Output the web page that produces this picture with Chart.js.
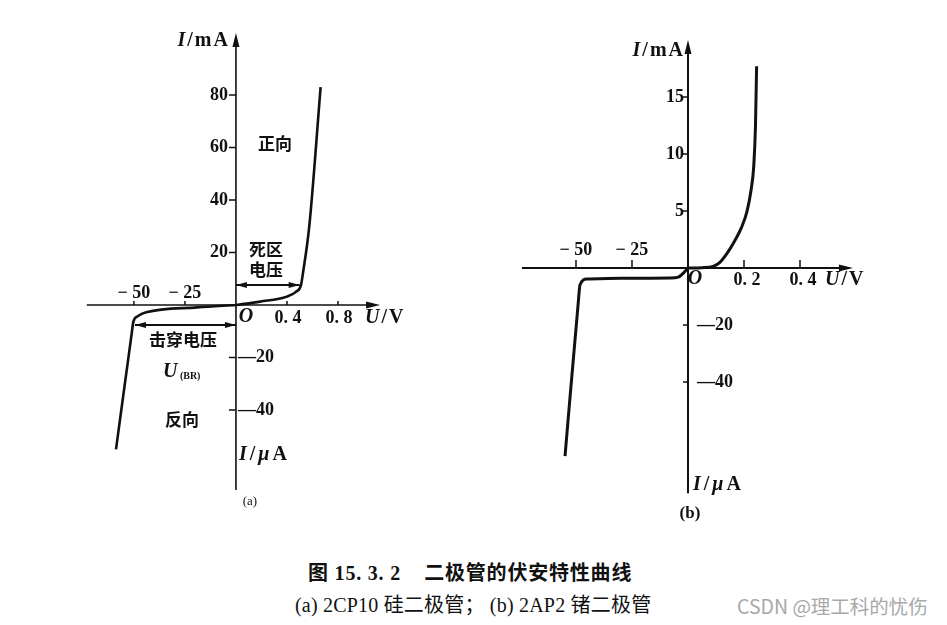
<!DOCTYPE html>
<html>
<head>
<meta charset="utf-8">
<script src="https://cdn.jsdelivr.net/npm/chart.js@4.4.1/dist/chart.umd.min.js"></script>
<style>
  html, body { margin: 0; padding: 0; background: #fff; width: 947px; height: 625px; overflow: hidden; }
  canvas { position: absolute; }
  #chartA { left: 60px; top: 20px; }
  #chartB { left: 490px; top: 20px; }
  .cap { position: absolute; white-space: nowrap; color: #111;
         font-family: 'Liberation Serif', 'Noto Sans CJK SC', serif; }
  .mark { position: absolute; white-space: nowrap; color: #a8a8a8;
          font-family: 'Noto Sans CJK SC', 'Noto Sans', sans-serif; font-size: 19.5px; }
</style>
</head>
<body>
<canvas id="chartA" width="350" height="500"></canvas>
<canvas id="chartB" width="400" height="520"></canvas>
<div class="cap" style="left:308px;top:557px;font-size:20px;font-weight:bold;letter-spacing:0.8px;">图 15. 3. 2&nbsp;&nbsp;&nbsp; 二极管的伏安特性曲线</div>
<div class="cap" style="left:295px;top:589px;font-size:20px;letter-spacing:0.2px;">(a) 2CP10 硅二极管； (b) 2AP2 锗二极管</div>
<div class="mark" style="left:737px;top:591px;">CSDN @理工科的忧伤</div>

<script>
// ─── DATA: (a) 2CP10 silicon diode ───────────────────────
const siForwardU = [0, 0.19, 0.40, 0.47, 0.51, 0.525, 0.575, 0.664];   // V
const siForwardI = [0, 1.3, 3.2, 5.0, 7.6, 12, 30, 83];                 // mA
const siReverseU = [0, -19, -44, -48, -50.3, -51.1, -58.8];             // V
const siReverseI = [0, -0.9, -2.8, -4.2, -6.4, -10.8, -55];             // µA
const siTicksU_pos = [0.4, 0.8];
const siTicksU_neg = [-25, -50];
const siTicksI_mA  = [20, 40, 60, 80];
const siTicksI_uA  = [-20, -40];
const siDeadZone  = { U: 0.5, I: 7.6 };     // 死区电压 (V, mA)
const siBreakdown = { U: -49.5, I: -7.6 };  // 击穿电压 (V, µA)

// ─── DATA: (b) 2AP2 germanium diode ──────────────────────
const geForwardU = [0, 0.05, 0.09, 0.114, 0.14, 0.165, 0.19, 0.21, 0.225, 0.235, 0.241, 0.245]; // V
const geForwardI = [0, 0.03, 0.15, 0.5, 1.3, 2.3, 3.5, 4.9, 6.8, 9.0, 12.5, 17.7];              // mA
const geReverseU = [0, -2.1, -4.3, -8, -30, -45.2, -48.2, -49.0, -54.9];                         // V
const geReverseI = [0, -1.8, -3.2, -3.5, -3.6, -3.9, -5.9, -12.2, -66];                          // µA
const geTicksU_pos = [0.2, 0.4];
const geTicksU_neg = [-25, -50];
const geTicksI_mA  = [5, 10, 15];
const geTicksI_uA  = [-20, -40];

// ─── STYLE ───────────────────────────────────────────────
const INK   = '#111';
const SERIF = "'Liberation Serif','DejaVu Serif',serif";
const CJK   = "'Noto Sans CJK SC',sans-serif";
const fNum  = `bold 18px ${SERIF}`;
const fIt   = `italic bold 20px ${SERIF}`;
const fReg  = `bold 20px ${SERIF}`;
const fCjk  = `bold 17px ${CJK}`;

// runs: [text, font, dy, letterSpacing]
function drawRuns(ctx, runs, x, y, align) {
  const widthOf = r => {
    ctx.font = r[1];
    const sp = r[3] || 0;
    return ctx.measureText(r[0]).width + sp * r[0].length;
  };
  const w = runs.reduce((s, r) => s + widthOf(r), 0);
  let cx = align === 'right' ? x - w : align === 'center' ? x - w / 2 : x;
  ctx.textAlign = 'left';
  ctx.textBaseline = 'middle';
  runs.forEach(r => {
    ctx.font = r[1];
    const sp = r[3] || 0;
    for (const ch of r[0]) {
      ctx.fillText(ch, cx, y + (r[2] || 0));
      cx += ctx.measureText(ch).width + sp;
    }
  });
}

function arrowHead(ctx, x, y, dir, len, half) {
  ctx.beginPath();
  if (dir === 'r') { ctx.moveTo(x, y); ctx.lineTo(x - len, y - half); ctx.lineTo(x - len, y + half); }
  if (dir === 'l') { ctx.moveTo(x, y); ctx.lineTo(x + len, y - half); ctx.lineTo(x + len, y + half); }
  if (dir === 'u') { ctx.moveTo(x, y); ctx.lineTo(x - half, y + len); ctx.lineTo(x + half, y + len); }
  ctx.closePath();
  ctx.fill();
}

function doubleArrow(ctx, x1, x2, y) {
  ctx.lineWidth = 2;
  ctx.beginPath(); ctx.moveTo(x1, y); ctx.lineTo(x2, y); ctx.stroke();
  arrowHead(ctx, x1, y, 'l', 11, 3);
  arrowHead(ctx, x2, y, 'r', 11, 3);
}

// ─── AXES / LABELS PLUGIN ────────────────────────────────
function drawFrame(chart, p, toPlot) {
  const { ctx, scales: { x, y } } = chart;
  const ox = x.getPixelForValue(0), oy = y.getPixelForValue(0);
  const px = u => x.getPixelForValue(toPlot(u, 0).x);
  const py = i => y.getPixelForValue(toPlot(0, i).y);
  const t = p.tick;

  ctx.save();
  ctx.strokeStyle = INK;
  ctx.fillStyle = INK;

  // axes with arrows
  ctx.lineWidth = p.axisW;
  const xl = x.getPixelForValue(p.axisX[0]), xr = x.getPixelForValue(p.axisX[1]);
  const yb = y.getPixelForValue(p.axisY[0]), yt = y.getPixelForValue(p.axisY[1]);
  ctx.beginPath();
  ctx.moveTo(xl, oy); ctx.lineTo(xr - 4, oy);
  ctx.moveTo(ox, yb); ctx.lineTo(ox, yt + 4);
  ctx.stroke();
  arrowHead(ctx, xr, oy, 'r', 14, 3.5);
  arrowHead(ctx, ox, yt, 'u', 14, 3.5);

  // tick marks
  ctx.lineWidth = 1.5;
  ctx.beginPath();
  p.ticksUpos.concat(p.ticksUneg).forEach(u => { ctx.moveTo(px(u), oy); ctx.lineTo(px(u), oy - t.xLen); });
  p.ticksImA.forEach(i => { ctx.moveTo(ox, py(i)); ctx.lineTo(ox - t.yLen, py(i)); });
  p.ticksIuA.forEach(i => { ctx.moveTo(ox, py(i)); ctx.lineTo(ox - t.yLen, py(i)); });
  ctx.stroke();

  // tick labels
  p.ticksUpos.forEach(u => drawRuns(ctx, [[u.toFixed(1).replace('.', '. '), fNum]], px(u) + t.xPosDx, oy + t.xPosDy, 'center'));
  p.ticksUneg.forEach(u => drawRuns(ctx, [['\u2212 ' + Math.abs(u), fNum]], px(u), oy + t.xNegDy, 'center'));
  p.ticksImA.forEach(i => drawRuns(ctx, [[String(i), fNum]], ox + t.yPosDx, py(i), 'right'));
  p.ticksIuA.forEach(i => drawRuns(ctx, [['\u2014' + Math.abs(i), fNum]], ox + t.yNegDx, py(i), 'left'));

  // annotations
  p.notes.forEach(n => drawRuns(ctx, n.runs, ox + n.dx, oy + n.dy, n.align));
  if (p.arrows) p.arrows.forEach(a => {
    const yy = y.getPixelForValue(toPlot(0, a.I).y);
    doubleArrow(ctx, Math.min(ox, px(a.U)), Math.max(ox, px(a.U)), yy);
  });
  ctx.restore();
}

function makeDiodeChart(canvasId, p) {
  const ctx = document.getElementById(canvasId).getContext('2d');
  const toPlot = (U, I) => ({ x: U >= 0 ? U : U / p.negX, y: I >= 0 ? I * p.posY : I });
  const series = (Us, Is) => Us.map((u, k) => toPlot(u, Is[k]));
  const lineStyle = {
    showLine: true,
    borderColor: INK,
    borderWidth: p.curveW,
    pointRadius: 0,
    fill: false,
    cubicInterpolationMode: 'monotone'
  };

  return new Chart(ctx, {
    type: 'scatter',
    data: {
      datasets: [
        { ...lineStyle, data: series(p.fwdU, p.fwdI) },
        { ...lineStyle, data: series(p.revU, p.revI) }
      ]
    },
    options: {
      responsive: false,
      animation: false,
      devicePixelRatio: 1,
      layout: { padding: 0 },
      plugins: { legend: { display: false }, tooltip: { enabled: false } },
      scales: {
        x: { type: 'linear', display: false, min: p.xRange[0], max: p.xRange[1] },
        y: { type: 'linear', display: false, min: p.yRange[0], max: p.yRange[1] }
      }
    },
    plugins: [{ id: 'frame', afterDatasetsDraw: chart => drawFrame(chart, p, toPlot) }]
  });
}

const titleI  = unit => [['I', fIt, 0, 2], ['/', fReg, 0, 2], ['m', fReg, 0, 2], [unit, fReg]];
const titleUA = [['I', fIt, 0, 3], ['/', fReg, 0, 3], ['μ', fIt, 0, 3], ['A', fReg]];
const titleU  = [['U', fIt, 0, 2], ['/', fReg, 0, 2], ['V', fReg]];

// ─── PANEL (a) ───────────────────────────────────────────
makeDiodeChart('chartA', {
  fwdU: siForwardU, fwdI: siForwardI, revU: siReverseU, revI: siReverseI,
  ticksUpos: siTicksU_pos, ticksUneg: siTicksU_neg, ticksImA: siTicksI_mA, ticksIuA: siTicksI_uA,
  negX: 62.5, posY: 1,
  xRange: [-1.380, 1.365], yRange: [-81.9, 108.57],
  axisX: [-1.17, 1.13], axisY: [-70.5, 103.6],
  axisW: 1.6, curveW: 2.6,
  tick: { xLen: 4, yLen: 7, xPosDx: 1, xPosDy: 13, xNegDy: -12, yPosDx: -8, yNegDx: 2 },
  arrows: [siDeadZone, siBreakdown],
  notes: [
    { runs: titleI('A'), dx: -8, dy: -264, align: 'right' },
    { runs: [['正向', fCjk]], dx: 39, dy: -161, align: 'center' },
    { runs: [['死区', fCjk]], dx: 30, dy: -55, align: 'center' },
    { runs: [['电压', fCjk]], dx: 30, dy: -35, align: 'center' },
    { runs: [['O', fIt]], dx: 10, dy: 12, align: 'center' },
    { runs: titleU, dx: 129, dy: 13, align: 'left' },
    { runs: [['击穿电压', fCjk]], dx: -53, dy: 35, align: 'center' },
    { runs: [['U', fIt], [' (BR)', `bold 10px ${SERIF}`, 4]], dx: -73, dy: 67, align: 'left' },
    { runs: [['反向', fCjk]], dx: -54, dy: 115, align: 'center' },
    { runs: titleUA, dx: 3, dy: 150, align: 'left' },
    { runs: [['(a)', `13px ${SERIF}`]], dx: 14, dy: 197, align: 'center' }
  ]
});

// ─── PANEL (b) ───────────────────────────────────────────
makeDiodeChart('chartB', {
  fwdU: geForwardU, fwdI: geForwardI, revU: geReverseU, revI: geReverseI,
  ticksUpos: geTicksU_pos, ticksUneg: geTicksU_neg, ticksImA: geTicksI_mA, ticksIuA: geTicksI_uA,
  negX: 125, posY: 4,
  xRange: [-0.7071, 0.7214], yRange: [-95.44, 87.02],
  axisX: [-0.593, 0.589], axisY: [-79, 80],
  axisW: 2, curveW: 3,
  tick: { xLen: 8, yLen: 5, xPosDx: 3, xPosDy: 12, xNegDy: -18, yPosDx: -4, yNegDx: 9 },
  notes: [
    { runs: titleI('A'), dx: -5, dy: -217, align: 'right' },
    { runs: [['O', fIt]], dx: 7, dy: 11, align: 'center' },
    { runs: titleU, dx: 137, dy: 12, align: 'left' },
    { runs: titleUA, dx: 5, dy: 217, align: 'left' },
    { runs: [['(b)', `bold 17px ${SERIF}`]], dx: 2, dy: 246, align: 'center' }
  ]
});
</script>
</body>
</html>
